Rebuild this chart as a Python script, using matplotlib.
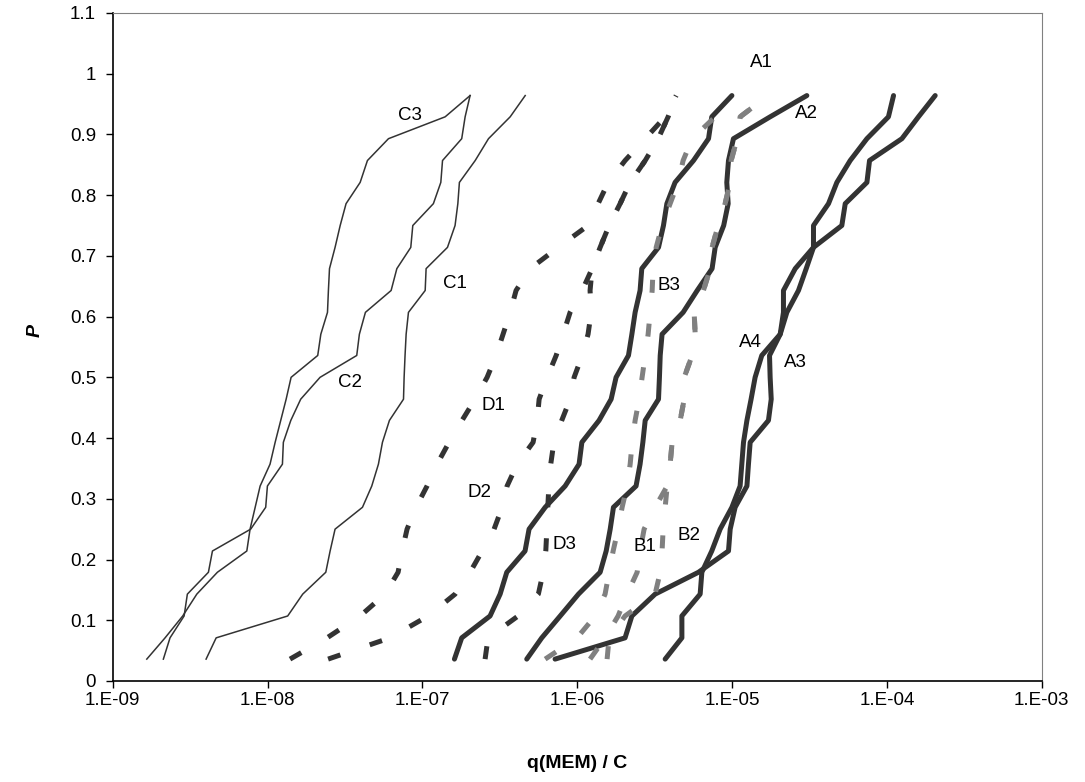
import numpy as np
import matplotlib.pyplot as plt

plt.rcParams['font.family'] = ['Liberation Sans', 'DejaVu Sans']

# posição de plotagem P = i/(n+1), n = 27 amostras por curva
P = [0.036, 0.071, 0.107, 0.143, 0.179, 0.214, 0.250, 0.286, 0.321,
     0.357, 0.393, 0.429, 0.464, 0.500, 0.536, 0.571, 0.607, 0.643,
     0.679, 0.714, 0.750, 0.786, 0.821, 0.857, 0.893, 0.929, 0.964]

# log10 de q(MEM)/C
C1 = [-8.397, -8.332, -7.870, -7.773, -7.624, -7.596, -7.564, -7.387, -7.327,
      -7.284, -7.258, -7.213, -7.122, -7.118, -7.112, -7.105, -7.090, -6.982,
      -6.976, -6.838, -6.789, -6.771, -6.761, -6.659, -6.573, -6.433, -6.336]
C2 = [-8.673, -8.630, -8.539, -8.518, -8.382, -8.356, -8.109, -8.012, -8.001,
      -7.904, -7.898, -7.850, -7.786, -7.661, -7.424, -7.407, -7.368, -7.202,
      -7.165, -7.075, -7.062, -6.929, -6.881, -6.870, -6.746, -6.724, -6.692]
C3 = [-8.780, -8.662, -8.548, -8.457, -8.324, -8.134, -8.113, -8.080, -8.048,
      -7.984, -7.951, -7.915, -7.880, -7.848, -7.676, -7.656, -7.613, -7.607,
      -7.600, -7.564, -7.531, -7.493, -7.402, -7.355, -7.219, -6.853, -6.692]

D1 = [-7.855, -7.616, -7.402, -7.241, -7.157, -7.131, -7.099, -7.041, -6.970,
      -6.905, -6.828, -6.744, -6.660, -6.582, -6.524, -6.479, -6.433, -6.395,
      -6.304, -6.123, -5.930, -5.865, -5.800, -5.691, -5.561, -5.432, -5.361]
D2 = [-7.609, -7.209, -6.963, -6.789, -6.692, -6.614, -6.537, -6.485, -6.453,
      -6.388, -6.285, -6.259, -6.246, -6.194, -6.136, -6.091, -6.046, -5.968,
      -5.904, -5.852, -5.794, -5.723, -5.658, -5.561, -5.477, -5.413, -5.361]
D3 = [-6.595, -6.576, -6.382, -6.251, -6.220, -6.203, -6.196, -6.190, -6.183,
      -6.171, -6.151, -6.100, -6.046, -6.020, -5.968, -5.930, -5.910, -5.917,
      -5.904, -5.852, -5.794, -5.723, -5.658, -5.561, -5.477, -5.413, -5.361]

B1 = [-6.207, -6.001, -5.884, -5.820, -5.794, -5.768, -5.736, -5.710, -5.678,
      -5.658, -5.645, -5.626, -5.600, -5.581, -5.561, -5.542, -5.529, -5.516,
      -5.510, -5.490, -5.452, -5.400, -5.348, -5.316, -5.258, -5.109, -4.999]
B2 = [-5.917, -5.820, -5.736, -5.678, -5.613, -5.594, -5.568, -5.497, -5.419,
      -5.400, -5.387, -5.335, -5.309, -5.309, -5.258, -5.238, -5.245, -5.185,
      -5.141, -5.129, -5.090, -5.045, -5.012, -5.006, -4.967, -4.948, -4.767]
B3 = [-6.793, -6.746, -6.563, -6.498, -6.455, -6.337, -6.311, -6.207, -6.078,
      -5.988, -5.970, -5.859, -5.781, -5.749, -5.669, -5.647, -5.626, -5.594,
      -5.583, -5.475, -5.443, -5.421, -5.368, -5.249, -5.152, -5.131, -5.001]

A1 = [-5.807, -5.794, -5.691, -5.497, -5.464, -5.452, -5.445, -5.432, -5.419,
      -5.400, -5.387, -5.335, -5.309, -5.309, -5.258, -5.238, -5.245, -5.185,
      -5.141, -5.129, -5.090, -5.045, -5.012, -5.006, -4.967, -4.948, -4.767]
A2 = [-6.326, -6.229, -6.110, -5.992, -5.852, -5.813, -5.787, -5.766, -5.620,
      -5.594, -5.576, -5.561, -5.475, -5.469, -5.464, -5.452, -5.316, -5.225,
      -5.129, -5.109, -5.054, -5.025, -5.034, -5.023, -4.991, -4.754, -4.517]
A3 = [-6.143, -5.691, -5.647, -5.497, -5.217, -5.023, -5.012, -4.980, -4.904,
      -4.894, -4.883, -4.765, -4.747, -4.754, -4.758, -4.689, -4.646, -4.571,
      -4.521, -4.474, -4.291, -4.269, -4.129, -4.112, -3.903, -3.796, -3.688]
A4 = [-5.432, -5.324, -5.324, -5.206, -5.195, -5.131, -5.077, -5.001, -4.948,
      -4.937, -4.926, -4.904, -4.877, -4.851, -4.808, -4.689, -4.668, -4.668,
      -4.592, -4.474, -4.474, -4.377, -4.323, -4.237, -4.129, -3.990, -3.957]

# rótulos das curvas: (texto, log10 q, P)
rotulos = [('C3', -7.08, 0.932), ('C1', -6.79, 0.655), ('C2', -7.47, 0.492),
           ('D1', -6.54, 0.454), ('D2', -6.63, 0.311), ('D3', -6.08, 0.224),
           ('B1', -5.56, 0.222), ('B2', -5.28, 0.240), ('B3', -5.41, 0.652),
           ('A1', -4.81, 1.019), ('A2', -4.52, 0.935), ('A4', -4.88, 0.557),
           ('A3', -4.59, 0.524)]

fig = plt.figure(figsize=(10.85, 7.82), dpi=100)
ax = fig.add_axes([0.1039, 0.1292, 0.8562, 0.8542])

escuro = '#333333'
cinza = '#808080'
fino = dict(color=escuro, lw=1.1)
cheio = dict(color=escuro, lw=3.6, solid_capstyle='round', solid_joinstyle='round')
trac_escuro = dict(color=escuro, lw=3.6, dashes=(2.6, 6.2), dash_capstyle='butt')
trac_cinza = dict(color=cinza, lw=3.6, dashes=(2.6, 6.2), dash_capstyle='butt')

for serie in (C1, C2, C3):
    ax.plot(10.0 ** np.array(serie), P, **fino)
for serie in (B3, A2, A3, A4):
    ax.plot(10.0 ** np.array(serie), P, **cheio)
for serie in (D1, D2, D3):
    ax.plot(10.0 ** np.array(serie), P, **trac_escuro)
for serie in (B1, B2, A1):
    ax.plot(10.0 ** np.array(serie), P, **trac_cinza)

for txt, lx, py in rotulos:
    ax.text(10.0 ** lx, py, txt, fontsize=13.5, ha='center', va='center')

ax.set_xscale('log')
ax.set_xlim(1e-9, 1e-3)
ax.set_ylim(0, 1.1)
xt = [1e-9, 1e-8, 1e-7, 1e-6, 1e-5, 1e-4, 1e-3]
ax.set_xticks(xt)
ax.set_xticklabels(['1.E-09', '1.E-08', '1.E-07', '1.E-06', '1.E-05', '1.E-04', '1.E-03'])
ax.xaxis.set_minor_locator(plt.NullLocator())
yt = [0, 0.1, 0.2, 0.3, 0.4, 0.5, 0.6, 0.7, 0.8, 0.9, 1.0, 1.1]
ax.set_yticks(yt)
ax.set_yticklabels(['0', '0.1', '0.2', '0.3', '0.4', '0.5', '0.6', '0.7', '0.8', '0.9', '1', '1.1'])
ax.tick_params(direction='out', length=5, width=1, labelsize=13.5)
ax.tick_params(axis='x', pad=3)
ax.tick_params(axis='y', pad=7)

for lado in ('top', 'right'):
    ax.spines[lado].set_color(cinza)
for lado in ('left', 'bottom'):
    ax.spines[lado].set_color('black')
    ax.spines[lado].set_linewidth(1.2)

ax.set_xlabel('q(MEM) / C', fontsize=14, fontweight='bold')
ax.set_ylabel('P', fontsize=14, fontweight='bold', style='italic')
ax.xaxis.set_label_coords(0.5, -0.111)
ax.yaxis.set_label_coords(-0.074, 0.525)

fig.savefig('out.png', dpi=100)
